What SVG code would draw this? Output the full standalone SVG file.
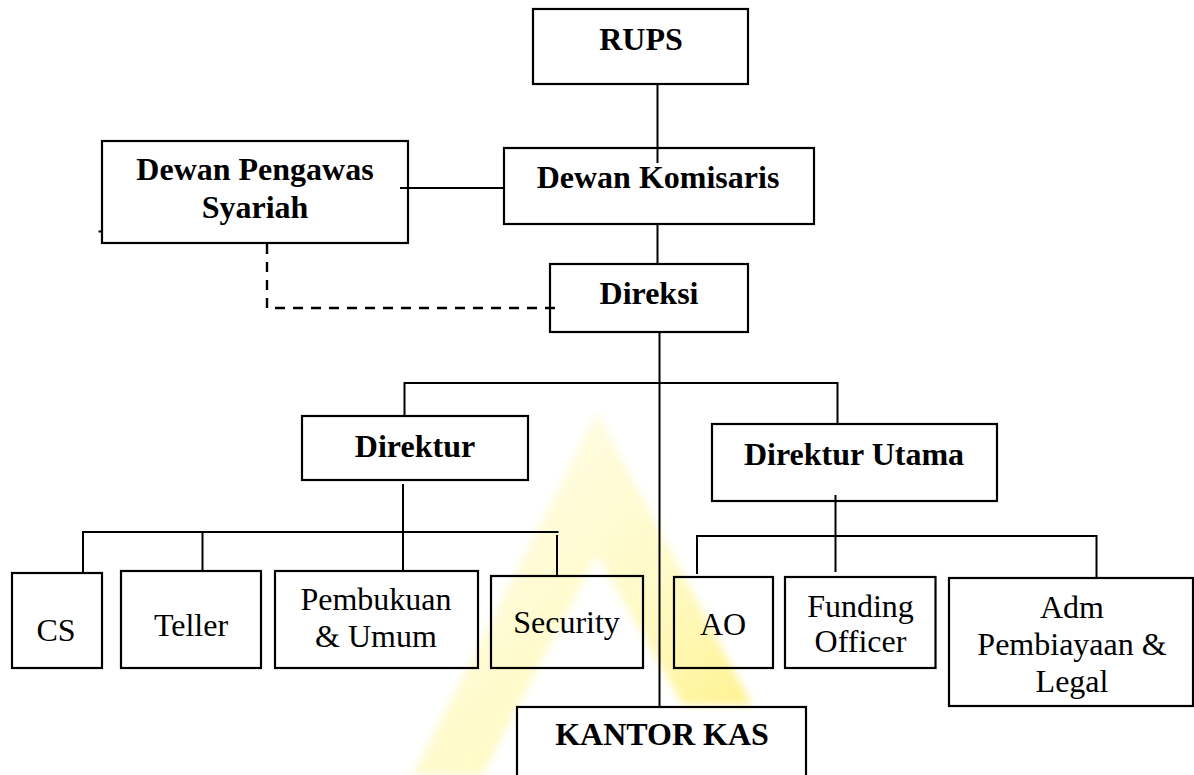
<svg xmlns="http://www.w3.org/2000/svg" width="1194" height="775" viewBox="0 0 1194 775">
<style>
.box{fill:none;stroke:#000;stroke-width:2.2}
.ln{fill:none;stroke:#000;stroke-width:2}
.dash{fill:none;stroke:#000;stroke-width:2.4;stroke-dasharray:10 8}
.b{font-family:"Liberation Serif","Times New Roman",serif;font-weight:bold;font-size:32px;fill:#000;text-anchor:middle}
.r{font-family:"Liberation Serif","Times New Roman",serif;font-size:32px;fill:#000;text-anchor:middle}
</style>
<defs>
<linearGradient id="wm" gradientUnits="userSpaceOnUse" x1="470" y1="430" x2="750" y2="710">
<stop offset="0" stop-color="#FFFDEA"/>
<stop offset="0.6" stop-color="#FFFAC8"/>
<stop offset="1" stop-color="#FFF290"/>
</linearGradient>
<filter id="soft" x="-10%" y="-10%" width="120%" height="120%"><feGaussianBlur stdDeviation="4"/></filter>
</defs>
<rect width="1194" height="775" fill="#fff"/>
<polygon id="watermark" points="597,412 752,705 683,705 597,555 482,775 413,775" fill="url(#wm)" filter="url(#soft)"/>
<g id="connectors">
<path class="ln" d="M657.5 84 V163"/>
<path class="ln" d="M400 188 H504"/>
<path class="ln" d="M657.5 224 V264"/>
<path class="dash" d="M267 244 V308 H557"/>
<path class="ln" d="M659.5 332 V707"/>
<path class="ln" d="M404.5 415.5 V383 H837.5 V424"/>
<path class="ln" d="M403 484 V571"/>
<path class="ln" d="M83 573 V532 H558.5"/>
<path class="ln" d="M202.5 532 V571"/>
<path class="ln" d="M557 535 V576"/>
<path class="ln" d="M835.5 495 V572"/>
<path class="ln" d="M697 574 V536 H1096.5 V578"/>
<path class="ln" stroke-width="1.5" d="M98.5 231.5 H102"/>
</g>
<g id="rups"><rect class="box" x="533" y="9" width="215" height="75"/><text class="b" x="641" y="50">RUPS</text></g>
<g id="dewan-komisaris"><rect class="box" x="504" y="148" width="310" height="76"/><text class="b" x="658" y="188">Dewan Komisaris</text></g>
<g id="dewan-pengawas"><rect class="box" x="102" y="141" width="306" height="102"/><text class="b" x="255" y="180">Dewan Pengawas</text><text class="b" x="255" y="218">Syariah</text></g>
<g id="direksi"><rect class="box" x="550" y="264" width="198" height="68"/><text class="b" x="649" y="304">Direksi</text></g>
<g id="direktur"><rect class="box" x="302" y="416" width="226" height="64"/><text class="b" x="415" y="457">Direktur</text></g>
<g id="direktur-utama"><rect class="box" x="712" y="424" width="285" height="77"/><text class="b" x="854" y="465">Direktur Utama</text></g>
<g id="cs"><rect class="box" x="12" y="573" width="90" height="95"/><text class="r" x="56" y="641">CS</text></g>
<g id="teller"><rect class="box" x="121" y="571" width="140" height="97"/><text class="r" x="191" y="636">Teller</text></g>
<g id="pembukuan"><rect class="box" x="275" y="571" width="203" height="97"/><text class="r" x="376" y="610">Pembukuan</text><text class="r" x="376" y="647">&amp; Umum</text></g>
<g id="security"><rect class="box" x="491" y="576" width="152" height="92"/><text class="r" x="566.5" y="633">Security</text></g>
<g id="ao"><rect class="box" x="674" y="577" width="99" height="91"/><text class="r" x="723" y="635">AO</text></g>
<g id="funding"><rect class="box" x="785" y="577" width="150.5" height="91"/><text class="r" x="860.5" y="617">Funding</text><text class="r" x="860.5" y="652">Officer</text></g>
<g id="adm"><rect class="box" x="949" y="578" width="244" height="128"/><text class="r" x="1072" y="618">Adm</text><text class="r" x="1072" y="655">Pembiayaan &amp;</text><text class="r" x="1072" y="692">Legal</text></g>
<g id="kantor-kas"><rect class="box" x="517" y="707" width="289" height="90"/><text class="b" x="662" y="745">KANTOR KAS</text></g>
</svg>
